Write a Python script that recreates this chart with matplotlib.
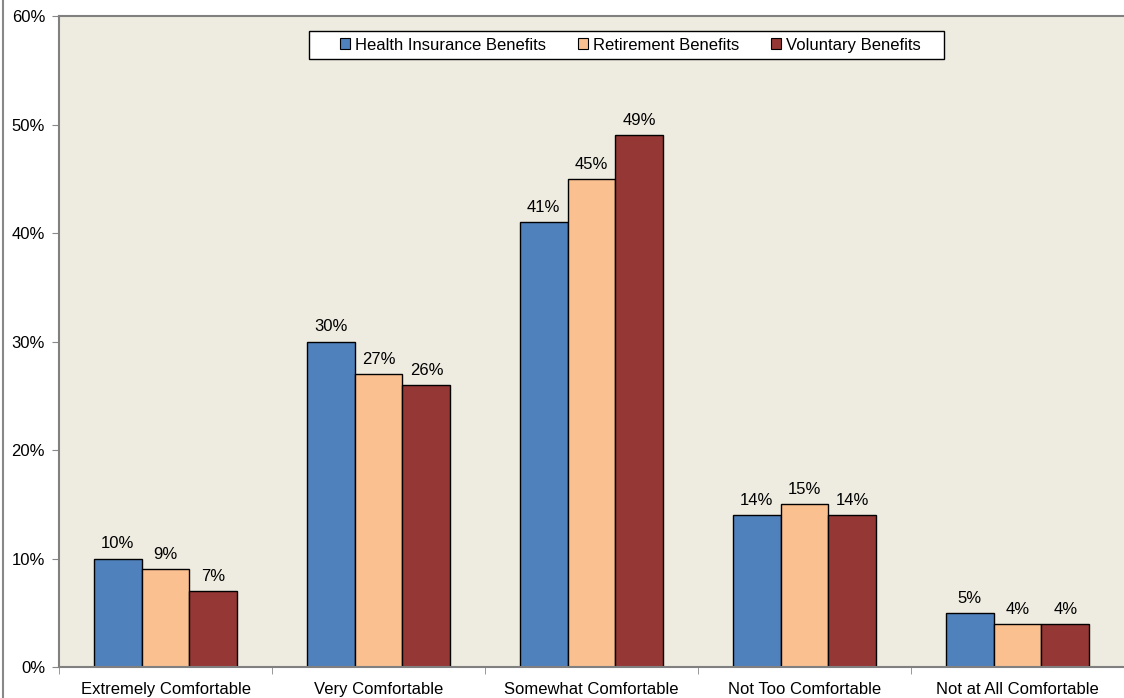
import matplotlib.pyplot as plt
import numpy as np
from matplotlib.lines import Line2D
from matplotlib.patches import Rectangle

categories = ["Extremely Comfortable", "Very Comfortable", "Somewhat Comfortable",
              "Not Too Comfortable", "Not at All Comfortable"]
series = ["Health Insurance Benefits", "Retirement Benefits", "Voluntary Benefits"]
health = [10, 30, 41, 14, 5]
retirement = [9, 27, 45, 15, 4]
voluntary = [7, 26, 49, 14, 4]
colors = ["#4F81BD", "#FAC090", "#953735"]

plt.rcParams["font.family"] = ["Liberation Sans", "DejaVu Sans"]
plt.rcParams["font.size"] = 12

fig = plt.figure(figsize=(11.24, 6.98), dpi=100)
ax = fig.add_axes([0.0525, 0.0444, 0.9475, 0.9326])
ax.set_facecolor("#EEEBE0")

x = np.arange(len(categories))
w = 0.225
for i, (vals, c, name) in enumerate(zip([health, retirement, voluntary], colors, series)):
    bars = ax.bar(x + (i - 1) * w, vals, w, color=c, edgecolor="black", linewidth=1, label=name)
    for b, v in zip(bars, vals):
        ax.text(b.get_x() + b.get_width() / 2, v + 0.65, f"{v}%", ha="center", va="bottom", fontsize=12)

ax.set_xlim(-0.5, len(categories) - 0.5)
ax.set_ylim(0, 60)
ax.set_yticks(range(0, 61, 10))
ax.set_yticklabels([f"{t}%" for t in range(0, 61, 10)])
ax.set_xticks(x)
ax.set_xticklabels(categories)
ax.tick_params(axis="x", length=0, pad=11)
ax.set_xticks(np.arange(-0.5, len(categories)), minor=True)
ax.tick_params(axis="x", which="minor", length=5, color="#888888")
ax.tick_params(axis="y", length=5, color="#888888", pad=5)

for s in ax.spines.values():
    s.set_color("#808080")
    s.set_linewidth(1.5)
ax.spines["right"].set_visible(False)

# legend box (wider than the entries, like the original)
ax.add_patch(Rectangle((0.2347, 0.934), 0.596, 0.043, transform=ax.transAxes,
                       facecolor="white", edgecolor="black", linewidth=1, zorder=4))
leg = ax.legend(loc="center", bbox_to_anchor=(0.5365, 0.9555), ncol=3, frameon=False,
                handlelength=0.6, handleheight=0.6, handletextpad=0.3,
                columnspacing=1.9, borderpad=0.2, fontsize=12)
leg.set_zorder(5)
for h in leg.legend_handles:
    h.set_linewidth(0.8)

fig.add_artist(Line2D([0.003, 0.003], [0, 1], color="#888888", linewidth=1.5, transform=fig.transFigure))

fig.savefig("out.png", dpi=100)
